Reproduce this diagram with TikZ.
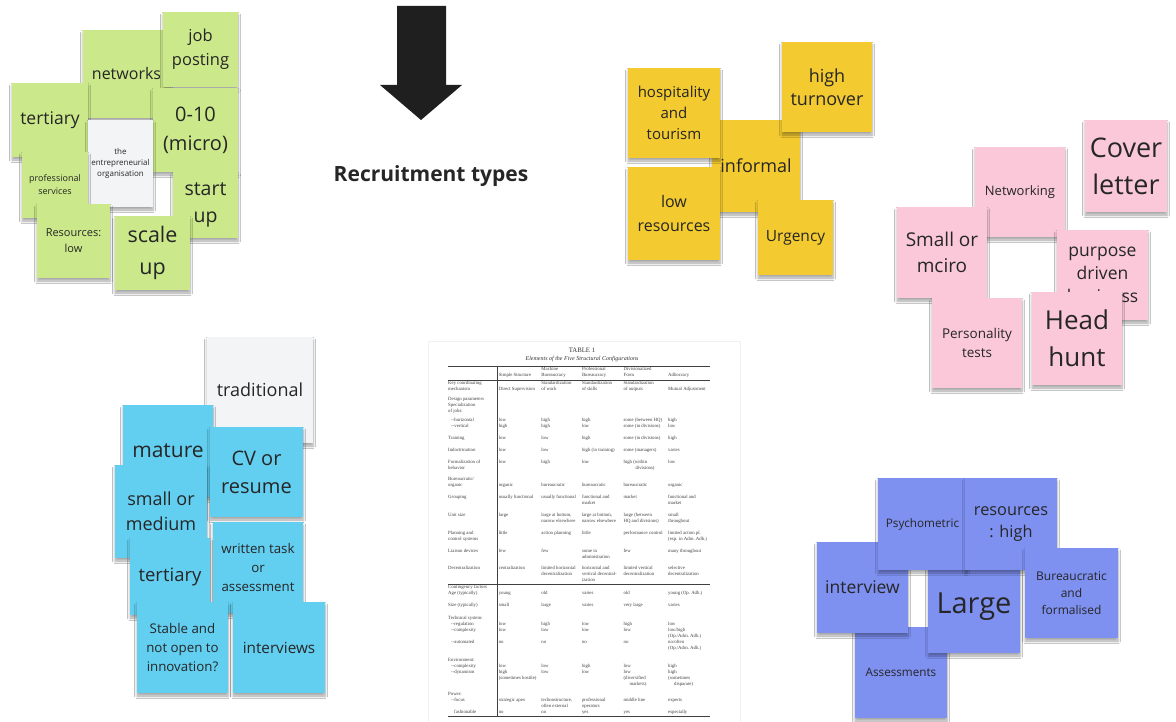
\documentclass[tikz,border=0pt]{standalone}
\usepackage{fontspec}
\setmainfont{Open Sans}
\newfontfamily\tabserif{Liberation Serif}
\usepackage{array}
\usetikzlibrary{positioning,shadows.blur}

\definecolor{ink}{RGB}{38,38,38}
\definecolor{notegreen}{RGB}{203,233,138}
\definecolor{noteyellow}{RGB}{243,202,48}
\definecolor{notepink}{RGB}{250,200,217}
\definecolor{noteblue}{RGB}{98,206,240}
\definecolor{notepurple}{RGB}{126,144,240}
\definecolor{notewhite}{RGB}{243,244,246}

\newcommand{\fsz}[2]{\fontsize{#1}{#2}\selectfont}
\newcommand{\tabfnt}{\tabserif\fontsize{4.8}{6}\selectfont}
\newcommand{\dn}{\mbox{}\newline}
\newcommand{\gap}[1]{\\\noalign{\vskip#1}}
\newcolumntype{L}[1]{>{\raggedright\arraybackslash}p{#1}}

\begin{document}
\begin{tikzpicture}[x=1pt,y=-1pt,on grid,
    note/.style={inner sep=2pt,align=center,text=ink,
      blur shadow={shadow xshift=0pt,shadow yshift=-3pt,shadow blur radius=2.5pt,shadow blur steps=6,shadow opacity=35}},
    sz/.style 2 args={minimum width=#1pt,minimum height=#2pt},
    gnote/.style={note,fill=notegreen},
    ynote/.style={note,fill=noteyellow},
    pnote/.style={note,fill=notepink},
    bnote/.style={note,fill=noteblue},
    vnote/.style={note,fill=notepurple},
    wnote/.style={note,fill=notewhite}]
    \path[use as bounding box,fill=white] (0,0) rectangle (1176,722);

    % the arrow and heading
    \fill[black!88] (397,6) -- (446,6) -- (446,85) -- (462,85) -- (421,120) -- (380,85) -- (397,85) -- cycle;
    \node[font=\bfseries\fsz{21}{25},text=ink] (rt) at (431,176) {Recruitment types};

    % scanned table
    \draw[black!6,fill=white] (428,341) rectangle (740,722);
    \node[font=\tabserif\fsz{6.8}{7},text=black!80] (tt) at (582,350) {TABLE 1};
    \node[font=\tabserif\itshape\fsz{6}{7},text=black!80,below=9pt of tt] (ts) {Elements of the Five Structural Configurations};
    \node[anchor=north west,inner sep=0pt,font=\tabfnt,text=black!75] (tbl) at (448,366) {%
    \setlength{\tabcolsep}{1.8pt}%
    \begin{tabular}{@{}L{47pt}L{39pt}L{37pt}L{38pt}L{41pt}L{42pt}@{}}
    \hline
    \dn & \dn Simple Structure & Machine\newline Bureaucracy & Professional\newline Bureaucracy & Divisionalized\newline Form & \dn Adhocracy \gap{1pt}
    \hline
    Key coordinating\newline mechanism & \dn Direct Supervision & Standardization\newline of work & Standardization\newline of skills & Standardization\newline of outputs & \dn Mutual Adjustment \gap{4pt}
    Design parameters\newline Specialization\newline of jobs: & & & & & \gap{3pt}
    \hspace*{3pt}--horizontal\newline\hspace*{3pt}--vertical & low\newline high & high\newline high & high\newline low & some (between HQ)\newline some (in divisions) & high\newline low \gap{6pt}
    Training & low & low & high & some (in divisions) & high \gap{6pt}
    Indoctrination & low & low & high (in training) & some (managers) & varies \gap{6pt}
    Formalization of\newline behavior & low & high & low & high (within\newline\hspace*{12pt}divisions) & low \gap{5pt}
    Bureaucratic/\newline organic & \dn organic & \dn bureaucratic & \dn bureaucratic & \dn bureaucratic & \dn organic \gap{6pt}
    Grouping & usually functional & usually functional & functional and\newline market & market & functional and\newline market \gap{6pt}
    Unit size & large & large at bottom,\newline narrow elsewhere & large at bottom,\newline narrow elsewhere & large (between\newline HQ and divisions) & small\newline throughout \gap{6pt}
    Planning and\newline control systems & little & action planning & little & performance control & limited action pl.\newline (esp. in Adm.\ Adh.) \gap{6pt}
    Liaison devices & few & few & some in\newline administration & few & many throughout \gap{5pt}
    Decentralization & centralization & limited horizontal\newline decentralization & horizontal and\newline vertical decentral-\newline ization & limited vertical\newline decentralization & selective\newline decentralization \gap{1pt}
    \hline
    Contingency factors\newline Age (typically) & \dn young & \dn old & \dn varies & \dn old & \dn young (Op.\ Adh.) \gap{6pt}
    Size (typically) & small & large & varies & very large & varies \gap{7pt}
    Technical system:\newline\hspace*{3pt}--regulation\newline\hspace*{3pt}--complexity\newline\mbox{}\newline\hspace*{3pt}--automated & \dn low\newline low\newline\mbox{}\newline no & \dn high\newline low\newline\mbox{}\newline no & \dn low\newline low\newline\mbox{}\newline no & \dn high\newline low\newline\mbox{}\newline no & \dn low\newline low/high\newline (Op./Adm.\ Adh.)\newline no/often\newline (Op./Adm.\ Adh.) \gap{6pt}
    Environment:\newline\hspace*{3pt}--complexity\newline\hspace*{3pt}--dynamism & \dn low\newline high\newline \mbox{(sometimes hostile)} & \dn low\newline low & \dn high\newline low & \dn low\newline low\newline (diversified\newline\hspace*{6pt}markets) & \dn high\newline high\newline (sometimes\newline\hspace*{6pt}disparate) \gap{4pt}
    Power:\newline\hspace*{3pt}--focus\newline\mbox{}\newline\hspace*{6pt}fashionable & \dn strategic apex\newline\mbox{}\newline no & \dn technostructure,\newline often external\newline no & \dn professional\newline operators\newline yes & \dn middle line\newline\mbox{}\newline yes & \dn experts\newline\mbox{}\newline especially \gap{1pt}
    \hline
    \end{tabular}};
    \coordinate (vr) at (497,0);
    \draw[black!75,line width=.6pt] (vr |- tbl.north) -- (vr |- tbl.south);

    % green cluster
    \node[gnote,sz={87}{88},font=\fsz{16}{21}] (g0) at (126.5,74) {networks};
    \node[gnote,sz={75}{75},font=\fsz{16.5}{24}] (g1) at (200.5,49.5) {job\\posting};
    \node[gnote,sz={76}{74},font=\fsz{17.5}{22}] (g2) at (50,120) {tertiary};
    \node[gnote,sz={85}{84},font=\fsz{20}{29}] (g3) at (195.5,130) {0-10\\(micro)};
    \node[wnote,sz={65}{87},font=\fsz{8}{11}] (g4) at (120.5,163.5) {the\\entrepreneurial\\organisation};
    \node[gnote,sz={66}{66},font=\fsz{9}{13}] (g5) at (55,185) {professional\\services};
    \node[gnote,sz={65}{66},font=\fsz{19.5}{27}] (g6) at (205.5,205) {start\\up};
    \node[gnote,sz={73}{74},font=\fsz{11}{16}] (g7) at (73.5,241) {Resources:\\low};
    \node[gnote,sz={75}{74},font=\fsz{21.5}{32}] (g8) at (152.5,253) {scale\\up};

    % yellow cluster
    \node[ynote,sz={88}{92},font=\fsz{18}{24}] (y0) at (756,166) {informal};
    \node[ynote,sz={90}{90},font=\fsz{18}{23}] (y1) at (827,87) {high\\turnover};
    \node[ynote,sz={92}{90},font=\fsz{15}{21}] (y2) at (674,113) {hospitality\\and\\tourism};
    \node[ynote,sz={92}{93},font=\fsz{16}{24},below=100.5pt of y2] (y3) {low\\resources};
    \node[ynote,sz={75}{75},font=\fsz{15.5}{20}] (y4) at (795.5,237.5) {Urgency};

    % pink cluster
    \node[pnote,sz={82}{92},font=\fsz{27}{37}] (p0) at (1126,166) {Cover\\letter};
    \node[pnote,sz={90}{90},font=\fsz{13}{17}] (p1) at (1020,192) {Networking};
    \node[pnote,sz={90}{91},font=\fsz{19}{26}] (p2) at (942,252.5) {Small or\\mciro};
    \node[pnote,sz={91}{90},font=\fsz{17.5}{23}] (p3) at (1102.5,275) {purpose\\driven\\business};
    \node[pnote,sz={90}{90},font=\fsz{13.5}{19}] (p4) at (977,343) {Personality\\tests};
    \node[pnote,sz={90}{93},font=\fsz{26}{37}] (p5) at (1077,338.5) {Head\\hunt};

    % blue cluster
    \node[wnote,sz={106}{106},font=\fsz{18}{22}] (b0) at (260,390) {traditional};
    \node[bnote,sz={90}{92},font=\fsz{21}{26}] (b1) at (168,451) {mature};
    \node[bnote,sz={93}{90},font=\fsz{20}{28}] (b2) at (256.5,472) {CV or\\resume};
    \node[bnote,sz={92}{93},font=\fsz{18}{25}] (b3) at (161,511.5) {small or\\medium};
    \node[bnote,sz={80}{77},font=\fsz{18.5}{24}] (b4) at (170,576.5) {tertiary};
    \node[bnote,sz={90}{91},font=\fsz{13.3}{19}] (b5) at (258,567.5) {written task\\or\\assessment};
    \node[bnote,sz={91}{91},font=\fsz{13.3}{19}] (b6) at (182.5,647.5) {Stable and\\not open to\\innovation?};
    \node[bnote,sz={92}{91},font=\fsz{15.3}{20},right=96.5pt of b6] (b7) {interviews};

    % purple cluster
    \node[vnote,sz={92}{91},font=\fsz{11.7}{16}] (v0) at (901,672.5) {Assessments};
    \node[vnote,sz={91}{91},font=\fsz{17.5}{22}] (v1) at (862.5,587.5) {interview};
    \node[vnote,sz={92}{93},font=\fsz{29}{34}] (v2) at (974,606.5) {Large};
    \node[vnote,sz={89}{92},font=\fsz{11.7}{16}] (v3) at (922.5,524) {Psychometric};
    \node[vnote,sz={92}{92},font=\fsz{16.3}{22},right=88.5pt of v3] (v4) {resources\\: high};
    \node[vnote,sz={93}{90},font=\fsz{12}{17}] (v5) at (1071.5,593) {Bureaucratic\\and\\formalised};
\end{tikzpicture}
\end{document}
